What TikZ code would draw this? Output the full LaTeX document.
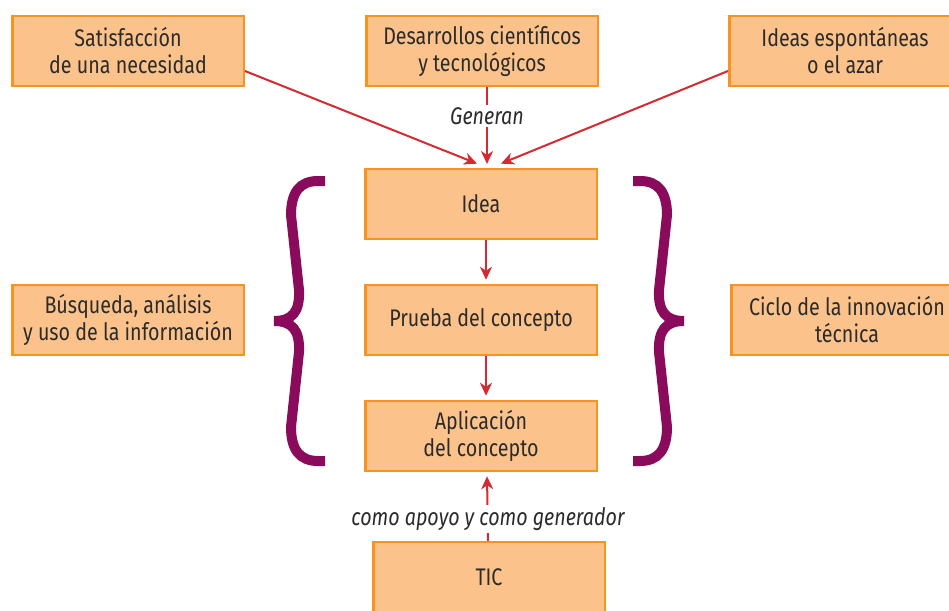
\documentclass[tikz,border=0pt]{standalone}
\usepackage{fontspec}
\setmainfont{Fira Sans}[FakeStretch=0.82]
\usetikzlibrary{arrows.meta}
\definecolor{boxfill}{HTML}{FBC38B}
\definecolor{boxline}{HTML}{F7931E}
\definecolor{arrowred}{HTML}{D42A32}
\definecolor{bracecol}{HTML}{8A0A5C}
\definecolor{txt}{HTML}{2B2B2B}
\begin{document}
\begin{tikzpicture}[x=1pt,y=-1pt,
  box/.style={draw=boxline, fill=boxfill, line width=2.5pt, minimum width=231.5pt,
    minimum height=70pt, align=center, text=txt, inner sep=0pt,
    font=\fontsize{24}{27}\selectfont},
  arr/.style={draw=arrowred, line width=2pt, shorten >=1pt,
    -{Stealth[length=13pt,width=12pt,inset=4pt]}},
  lbl/.style={font=\itshape\fontsize{24}{27}\selectfont, text=txt, fill=white, inner sep=2pt},
  brc/.style={draw=bracecol, line width=10pt},
  mybrace/.pic={
    \draw[brc] (325,181) -- (318,181) .. controls (300,181) and (291,192) .. (291,215)
      -- (299,290) .. controls (300,312) and (292,321) .. (274,321)
      .. controls (292,321) and (300,330) .. (299,352)
      -- (291,427) .. controls (291,450) and (300,461) .. (318,461) -- (325,461);
  }]
\clip (0,0) rectangle (949,610);
\fill[white] (0,0) rectangle (949,610);

\node[box] (sat) at (128,51) {Satisfacción\\de una necesidad};
\node[box] (des) at (482,51) {Desarrollos científicos\\y tecnológicos};
\node[box] (ide) at (845,51) {Ideas espontáneas\\o el azar};
\node[box] (idea) at (481,204) {Idea};
\node[box] (pru) at (481,320) {Prueba del concepto};
\node[box] (apl) at (481,436) {Aplicación\\del concepto};
\node[box] (bus) at (128,320) {Búsqueda, análisis\\y uso de la información};
\node[box] (cic) at (847,320) {Ciclo de la innovación\\técnica};
\node[box] (tic) at (489,577) {TIC};

\coordinate (tipL) at (478,164);
\coordinate (tipR) at (500,164);
\coordinate (tipC) at (487,165);

\draw[arr] ([yshift=-20pt]sat.east) -- (tipL);
\draw[arr] ([yshift=-20pt]ide.west) -- (tipR);
\draw[arr] ([xshift=5pt]des.south) -- (tipC);
\node[lbl] (gen) at (487,116) {Generan};

\draw[arr] ([xshift=5pt]idea.south) -- ([xshift=5pt,yshift=3pt]pru.north);
\draw[arr] ([xshift=5pt]pru.south) -- ([xshift=5pt,yshift=3pt]apl.north);
\draw[arr] ([xshift=-1pt]tic.north) -- ([xshift=6pt,yshift=-3pt]apl.south);
\node[lbl] (apo) at (488,519) {como apoyo y como generador};

\pic {mybrace};
\begin{scope}[shift={(958,0)}, xscale=-1]
  \pic[transform shape] {mybrace};
\end{scope}
\end{tikzpicture}
\end{document}
